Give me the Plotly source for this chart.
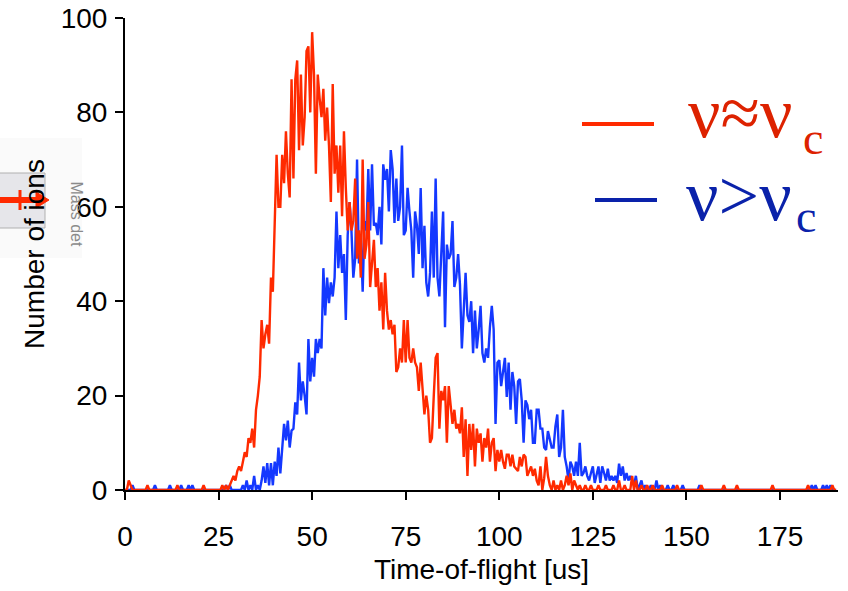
import numpy as np
import plotly.graph_objects as go

# Bin grid (time-of-flight, us) and counts
bin_width = 0.5
red_counts = [
    0,0,2,1,0,0,0,0,0,0, 0,0,1,0,0,0,0,0,0,0,
    0,0,0,0,0,0,0,0,1,0, 0,0,0,0,0,0,0,0,0,0,
    0,0,1,0,0,0,0,0,0,0, 0,0,1,0,1,0,1,2,3,2,
    4,5,4,6,8,7,11,10,13,9, 17,20,24,36,30,33,35,31,45,42,
    58,71,60,60,71,65,76,67,62,87, 66,87,91,72,88,73,79,93,94,80,
    97,88,67,88,83,79,85,74,81,73, 61,86,67,73,63,73,58,76,64,55,
    61,55,57,66,49,55,45,70,49,52, 61,43,48,53,43,47,38,44,34,46,
    38,34,36,33,35,25,26,30,27,36, 27,36,28,27,30,27,26,21,27,22,
    16,20,17,10,11,20,28,29,13,21, 19,22,10,22,18,14,17,13,14,12,
    17.5,7,15,3,14,8.5,14,5,13,10, 12,6,11,9,13,6,10,11,4,8.5,
    6,8.5,6,4.5,7.5,7.5,5,7.5,5,4.5, 4,7,5,7.5,7,3,4,5,3,4.5,
    2,1,5,0,2.5,7,3,1,0,2, 0,1,0,2,0,1,3,1,3.5,0,
    2,1,0,1,0,0,1,0,0,1, 0,0,0,1,0,0,0,1,0,0,
    0,1,0,0,2,0,0,1,0,0, 0,3,0,2,0,0,1,0,0,1,
    0,0,1,0,0,0,0,1,0,0, 0,0,0,0,0,1,0,0,0,0,
    0,0,0,0,0,0,0,0,1,0, 0,0,0,0,0,0,0,0,0,0,
    1,0,0,0,0,0,0,1,0,0, 0,0,0,0,0,0,0,0,0,0,
    0,0,0,0,0,0,1,0,0,0, 0,0,0,0,0,0,0,0,0,0,
    0,0,0,0,0,1,0,0,0,0, 0,0,0,0,0,0,0,0,1,0,
    0,
]
blue_counts = [
    0,0,0,0,1,0,0,0,0,0, 0,0,0,0,0,0,1,0,0,0,
    0,0,0,0,1,0,0,0,0,0, 1,0,0,0,1,0,1,0,0,0,
    0,0,0,0,0,0,0,0,0,0, 0,0,0,0,1,0,1,0,0,0,
    0,0,0,1,0,2,0,1,0,3, 0,1,0,2,5,1.5,5.7,1,5.7,1,
    6,3,9,3.5,9,14,10.5,14.7,9,12.6, 13,18.6,16,27,19,23,20,16,32,23,
    28,24,32,29,32,30,47,37,45,39.6, 44,41,45,59,47,54,46,50,36,54,
    61,55,45,49,70,48,54,42,57,55, 68,55,69,56,56.6,54,60,52,69,65.7,
    68,59,72,68,56.6,66,57,60,73,54, 55,64,59,55,45,59,56,50,64,47,
    56,44,41,46,59,45,66,45,41,49, 59,34.5,52,49,50,57,43,45,50,43.5,
    30,38,46,37,35.6,40,29,38,30,34, 39,29,27,30,28,34.5,39,34,14,27,
    27.5,22,25,28,19.7,27,17,25,22,14, 23,23.5,19,10,19,18,15,17,10,10,
    17,17,13,13,9,8.5,12.5,11,9,9, 13.5,16,7,9,17,7,5,2,6,5,
    3,6,3,10,3,3.6,5,3,2,3.6, 5,1.5,3,5,1.5,5,3.6,2,4.5,2,
    3,2,3,1.5,5.6,3,5,2,3.6,2, 3,2,1,3,0,1,2,0,1,0,
    0,1,0,0,2,0,1,0,0,0, 1,0,0,1,0,0,0,0,1,0,
    0,0,0,0,0,0,0,1,0,0, 0,0,0,0,0,0,0,0,0,0,
    0,0,0,0,0,0,0,0,0,0, 0,0,0,0,0,0,0,0,0,0,
    0,0,0,0,0,0,0,0,0,0, 0,0,0,0,0,0,0,0,0,0,
    0,0,0,0,0,0,0,1,0,1, 0,0,0,1,0,1,0,1,0,0,
    0,
]
x_ticks = [0, 25, 50, 75, 100, 125, 150, 175]
y_ticks = [0, 20, 40, 60, 80, 100]
series_names = ["ν≈ν<sub>c</sub>", "ν>ν<sub>c</sub>"]
legend_main = ["ν≈ν", "ν>ν"]
legend_sub = "c"

t_red = np.arange(len(red_counts)) * bin_width
t_blue = np.arange(len(blue_counts)) * bin_width

RED = "#ff2a00"
BLUE = "#1438ff"
RED_TXT = "#dd2200"
BLUE_TXT = "#0a22aa"
FONT = "Liberation Sans, Arial, sans-serif"
SERIF = "Liberation Serif, Times New Roman, serif"

fig = go.Figure()
fig.add_trace(go.Scatter(x=t_blue, y=blue_counts, mode="lines", name=series_names[1],
                         line=dict(color=BLUE, width=2.4), showlegend=False))
fig.add_trace(go.Scatter(x=t_red, y=red_counts, mode="lines", name=series_names[0],
                         line=dict(color=RED, width=2.4), showlegend=False))

L, R, T, B = 125, 10, 18, 101
W, H = 848, 591
pw, ph = W - L - R, H - T - B
def px(xp):
    return (xp - L) / pw
def py(yp):
    return (H - B - yp) / ph

axis_common = dict(showline=True, linecolor="black", linewidth=2, ticks="outside",
                   ticklen=8, tickwidth=2, tickcolor="black", showgrid=False,
                   zeroline=False, tickfont=dict(family=FONT, size=28, color="black"),
                   mirror=False, automargin=False)
fig.update_layout(
    width=W, height=H, margin=dict(l=L, r=R, t=T, b=B),
    paper_bgcolor="white", plot_bgcolor="white",
    xaxis=dict(range=[0, 190.5], tickvals=x_ticks, ticklabelstandoff=12, **axis_common,
               title=dict(text="Time-of-flight [us]", font=dict(family=FONT, size=28, color="black"), standoff=9)),
    yaxis=dict(range=[0, 100], tickvals=y_ticks, ticklabelstandoff=2, **axis_common,
               title=dict(text="Number of ions", font=dict(family=FONT, size=28, color="black"), standoff=8)),
)

# background artifact on the left (pasted detector icon)
fig.add_shape(type="rect", xref="paper", yref="paper", x0=px(0), x1=px(82), y0=py(258), y1=py(138),
              fillcolor="#fafafa", line=dict(width=0), layer="below")
fig.add_shape(type="rect", xref="paper", yref="paper", x0=px(-2), x1=px(45), y0=py(228), y1=py(173),
              fillcolor="#e6e6ea", line=dict(color="#b0b0b0", width=1), layer="below")
fig.add_shape(type="line", xref="paper", yref="paper", x0=px(20), x1=px(20), y0=py(210), y1=py(190),
              line=dict(color=RED, width=3), layer="below")
fig.add_shape(type="line", xref="paper", yref="paper", x0=px(0), x1=px(38), y0=py(200), y1=py(200),
              line=dict(color=RED, width=6), layer="below")
arrow_path = "M {a},{b} L {c},{d} L {a},{e} Z".format(
    a=px(36), b=py(192), c=px(49), d=py(200), e=py(208))
fig.add_shape(type="path", xref="paper", yref="paper", path=arrow_path,
              fillcolor=RED, line=dict(color=RED, width=1), layer="below")
fig.add_annotation(xref="paper", yref="paper", x=px(66), y=py(214), text="Mass det",
                   showarrow=False, textangle=90, font=dict(family=FONT, size=16, color="#8a8a8a"))

# legend drawn manually
fig.add_shape(type="line", xref="paper", yref="paper", x0=px(582), x1=px(654), y0=py(124), y1=py(124),
              line=dict(color=RED, width=4))
fig.add_shape(type="line", xref="paper", yref="paper", x0=px(595), x1=px(657), y0=py(200), y1=py(200),
              line=dict(color=BLUE_TXT, width=4))
fig.add_annotation(xref="paper", yref="paper", x=px(686), y=py(113), xanchor="left", yanchor="middle",
                   text=legend_main[0], showarrow=False,
                   font=dict(family=SERIF, size=72, color=RED_TXT))
fig.add_annotation(xref="paper", yref="paper", x=px(801), y=py(138), xanchor="left", yanchor="middle",
                   text=legend_sub, showarrow=False,
                   font=dict(family=SERIF, size=46, color=RED_TXT))
fig.add_annotation(xref="paper", yref="paper", x=px(684), y=py(196), xanchor="left", yanchor="middle",
                   text=legend_main[1], showarrow=False,
                   font=dict(family=SERIF, size=72, color=BLUE_TXT))
fig.add_annotation(xref="paper", yref="paper", x=px(794), y=py(216), xanchor="left", yanchor="middle",
                   text=legend_sub, showarrow=False,
                   font=dict(family=SERIF, size=46, color=BLUE_TXT))

fig.write_html("out.html")
